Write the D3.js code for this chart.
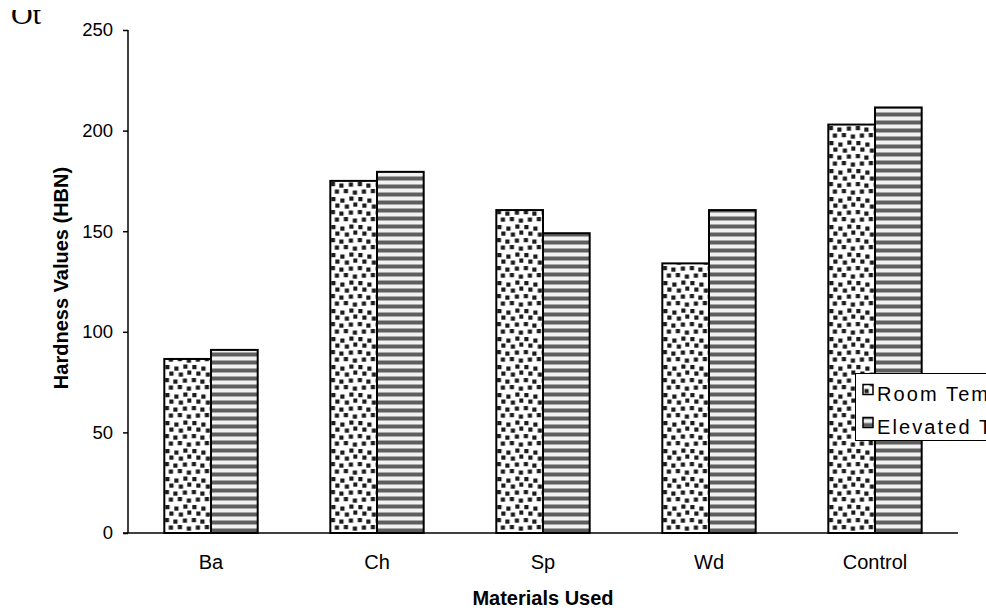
<!DOCTYPE html>
<html>
<head>
<meta charset="utf-8">
<script src="https://cdn.jsdelivr.net/npm/d3@7"></script>
<style>
  html, body { margin: 0; padding: 0; background: #fff; }
  svg { display: block; }
</style>
</head>
<body>
<svg id="chart" width="986" height="610"></svg>
<script>
// Hardness (HBN) by material, at room and elevated temperature
const categories = ["Ba", "Ch", "Sp", "Wd", "Control"];
const seriesNames = ["Room Temperature", "Elevated Temperature"];
const roomTemp = [86.5, 175, 160.5, 134, 203];
const elevatedTemp = [91, 179.5, 149, 160.5, 211.5];
const yTicks = [0, 50, 100, 150, 200, 250];

const svg = d3.select("#chart");
const plot = { left: 128, right: 958, top: 30, bottom: 533 };
const FONT = "'Liberation Sans', Arial, sans-serif";

// ---- fill patterns ----
const defs = svg.append("defs");

const blur = defs.append("filter").attr("id", "soft")
  .attr("x", "-20%").attr("y", "-20%").attr("width", "140%").attr("height", "140%");
blur.append("feGaussianBlur").attr("stdDeviation", 0.7);

// confetti of small dark squares, scattered across a 27x28 tile
const confetti = [
  [1, 1], [10, 2.5], [19, 0.5],
  [5, 7.5], [14.5, 8.5], [23, 6.5],
  [0.5, 14], [9, 15.5], [18.5, 14.5],
  [4.5, 21.5], [13.5, 21], [22.5, 22.5]
];
const dots = defs.append("pattern").attr("id", "pat-dots")
  .attr("patternUnits", "userSpaceOnUse").attr("width", 27).attr("height", 28);
dots.append("rect").attr("width", 27).attr("height", 28).attr("fill", "#fff");
const dotG = dots.append("g").attr("filter", "url(#soft)").attr("fill", "#1c1c1c");
confetti.forEach(([x, y]) => {
  dotG.append("rect").attr("x", x).attr("y", y).attr("width", 4.2).attr("height", 4.2);
});

// horizontal stripes
const stripes = defs.append("pattern").attr("id", "pat-stripes")
  .attr("patternUnits", "userSpaceOnUse").attr("width", 8).attr("height", 8);
stripes.append("rect").attr("width", 8).attr("height", 8).attr("fill", "#fff");
stripes.append("rect").attr("y", 0).attr("width", 8).attr("height", 1).attr("fill", "#a8a8a8");
stripes.append("rect").attr("y", 1).attr("width", 8).attr("height", 3).attr("fill", "#5e5e5e");
stripes.append("rect").attr("y", 4).attr("width", 8).attr("height", 1).attr("fill", "#a8a8a8");
stripes.append("rect").attr("y", 5).attr("width", 8).attr("height", 3).attr("fill", "#f2f2f2");

const fills = ["url(#pat-dots)", "url(#pat-stripes)"];

// ---- scales ----
const x0 = d3.scaleBand().domain(categories).range([plot.left, plot.right]).padding(0);
const groupW = x0.bandwidth() * 0.5625;
const x1 = d3.scaleBand().domain(seriesNames).range([0, groupW]).padding(0);
const y = d3.scaleLinear().domain([0, 250]).range([plot.bottom, plot.top]);

// ---- clipped stray heading in the top-left corner ----
const topClip = defs.append("clipPath").attr("id", "clip-top");
topClip.append("rect").attr("x", 0).attr("y", 10).attr("width", 120).attr("height", 20);
svg.append("text")
  .attr("clip-path", "url(#clip-top)")
  .attr("x", 11).attr("y", 23.5)
  .attr("font-family", "'Liberation Serif', 'Times New Roman', serif")
  .attr("font-size", 30)
  .attr("fill", "#000")
  .text("Ot");

// ---- bars ----
const data = categories.map((c, i) => ({ cat: c, vals: [roomTemp[i], elevatedTemp[i]] }));
const groups = svg.append("g").selectAll("g").data(data).join("g")
  .attr("transform", d => `translate(${x0(d.cat) + (x0.bandwidth() - groupW) / 2},0)`);
groups.selectAll("rect")
  .data(d => d.vals.map((v, k) => ({ v, k })))
  .join("rect")
  .attr("x", d => x1(seriesNames[d.k]))
  .attr("y", d => y(d.v))
  .attr("width", x1.bandwidth())
  .attr("height", d => y(0) - y(d.v))
  .attr("fill", d => fills[d.k])
  .attr("stroke", "#000")
  .attr("stroke-width", 2);

// ---- y axis ----
const yAxis = svg.append("g")
  .attr("transform", `translate(${plot.left},0)`)
  .call(d3.axisLeft(y).tickValues(yTicks).tickSize(5).tickPadding(10));
yAxis.select(".domain").attr("stroke", "#000").attr("stroke-width", 1.5)
  .attr("d", `M0,${plot.top}V${plot.bottom}`);
yAxis.selectAll(".tick line").attr("stroke", "#000").attr("stroke-width", 1.5);
yAxis.selectAll(".tick text")
  .attr("font-family", FONT).attr("font-size", 18.5).attr("fill", "#000");

// ---- x axis ----
const xAxis = svg.append("g")
  .attr("transform", `translate(0,${plot.bottom})`)
  .call(d3.axisBottom(x0).tickSize(0).tickPadding(22));
xAxis.select(".domain").attr("stroke", "#000").attr("stroke-width", 1.5)
  .attr("d", `M${plot.left - 5},0H${plot.right}`);
xAxis.selectAll(".tick text")
  .attr("font-family", FONT).attr("font-size", 20).attr("fill", "#000");

// ---- axis titles ----
svg.append("text")
  .attr("x", (plot.left + plot.right) / 2).attr("y", 605)
  .attr("text-anchor", "middle")
  .attr("font-family", FONT).attr("font-size", 20).attr("font-weight", "bold")
  .text("Materials Used");

const yTitleX = 68, yTitleY = 278;
svg.append("text")
  .attr("transform", `translate(${yTitleX},${yTitleY}) rotate(-90)`)
  .attr("text-anchor", "middle")
  .attr("font-family", FONT).attr("font-size", 20).attr("font-weight", "bold")
  .text("Hardness Values (HBN)");

// a second, mostly hidden copy of the y title peeking out beside it
const peek = defs.append("clipPath").attr("id", "clip-peek");
peek.append("rect").attr("x", 72.5).attr("y", 228).attr("width", 4).attr("height", 170);
svg.append("text")
  .attr("clip-path", "url(#clip-peek)")
  .attr("transform", `translate(${yTitleX + 7},${yTitleY + 30}) rotate(-90)`)
  .attr("text-anchor", "middle")
  .attr("font-family", FONT).attr("font-size", 20).attr("font-weight", "bold")
  .text("Hardness Values (HBN)");

// ---- legend (runs off the right edge) ----
const legend = svg.append("g").attr("transform", "translate(855.5,373.5)");
legend.append("rect")
  .attr("width", 200).attr("height", 67)
  .attr("fill", "#fff").attr("stroke", "#000").attr("stroke-width", 1);
seriesNames.forEach((name, i) => {
  const row = legend.append("g").attr("transform", `translate(0,${i * 33})`);
  row.append("rect")
    .attr("x", 7.5).attr("y", 11).attr("width", 10).attr("height", 10)
    .attr("fill", fills[i]).attr("stroke", "#000").attr("stroke-width", 1.5);
  row.append("text")
    .attr("x", 21.5).attr("y", 27.5)
    .attr("font-family", FONT).attr("font-size", 20).attr("letter-spacing", 2.1)
    .attr("fill", "#000")
    .text(name);
});
</script>
</body>
</html>
